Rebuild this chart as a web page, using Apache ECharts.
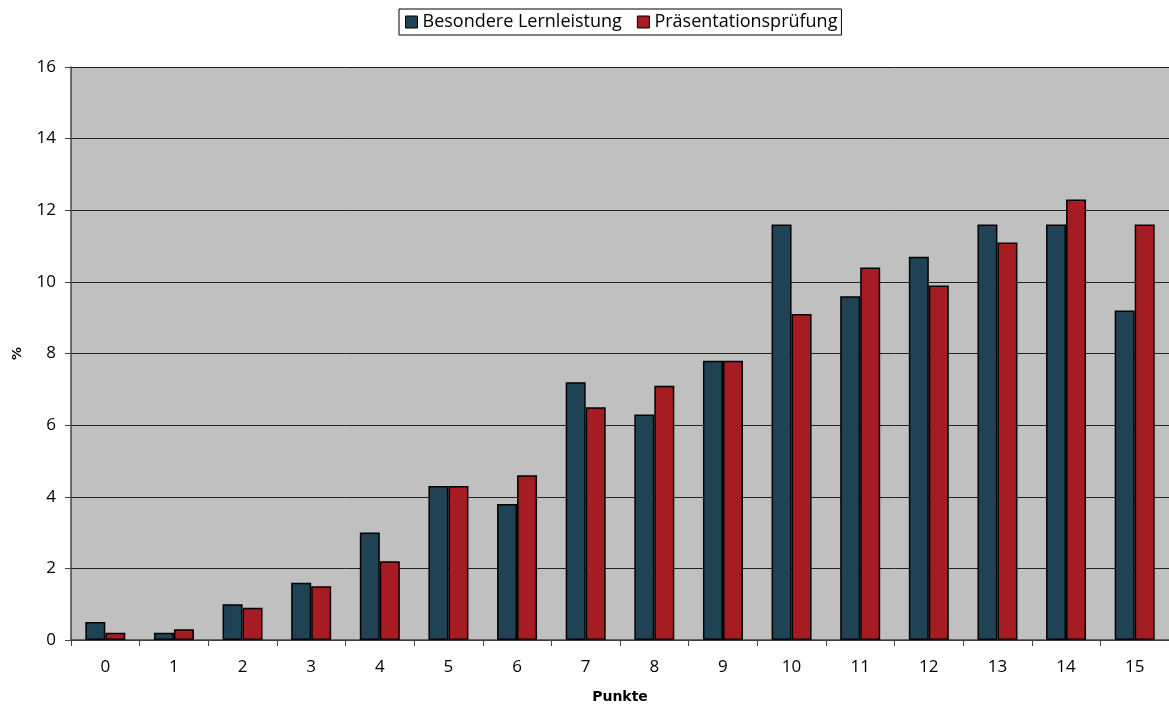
<!DOCTYPE html>
<html><head><meta charset="utf-8">
<script src="https://cdn.jsdelivr.net/npm/echarts@6/dist/echarts.min.js"></script>
<style>html,body{margin:0;padding:0;background:#fff}#c{width:1169px;height:709px}</style>
</head><body><div id="c"></div>
<script>
const categories = ['0','1','2','3','4','5','6','7','8','9','10','11','12','13','14','15'];
const besondereLernleistung = [0.5,0.2,1.0,1.6,3.0,4.3,3.8,7.2,6.3,7.8,11.6,9.6,10.7,11.6,11.6,9.2];
const praesentationspruefung = [0.2,0.3,0.9,1.5,2.2,4.3,4.6,6.5,7.1,7.8,9.1,10.4,9.9,11.1,12.3,11.6];
const seriesNames = ['Besondere Lernleistung','Präsentationsprüfung'];
const FONT = '"Open Sans", "Noto Sans", sans-serif';
const chart = echarts.init(document.getElementById('c'), null, {renderer:'canvas'});
chart.setOption({
  animation:false,
  textStyle:{fontFamily:FONT},
  legend:{
    top:9, left:399,
    itemWidth:12, itemHeight:12, itemGap:15,
    borderColor:'#000', borderWidth:1, padding:[4,4,4,6],
    textStyle:{fontSize:18,color:'#000',fontFamily:FONT},
    data:seriesNames.map(n=>({name:n,icon:'rect',itemStyle:{borderColor:'#000',borderWidth:1}}))
  },
  grid:{left:71,right:-4,top:67,bottom:65,show:true,backgroundColor:'#C0C0C0',borderWidth:0,containLabel:false},
  xAxis:{
    type:'category', data:categories,
    name:'Punkte', nameLocation:'middle', nameGap:50,
    nameTextStyle:{fontWeight:'bold',fontSize:14,color:'#000',fontFamily:'"DejaVu Sans", sans-serif'},
    axisLine:{lineStyle:{color:'#444',width:1.5}},
    axisTick:{show:true,length:6,lineStyle:{color:'#444'}},
    axisLabel:{fontSize:17,color:'#000',margin:19,fontFamily:FONT},
    splitLine:{show:false}
  },
  yAxis:{
    type:'value', min:0, max:16, interval:2,
    name:'%', nameLocation:'middle', nameGap:47,
    nameTextStyle:{fontWeight:'bold',fontSize:13,color:'#000',fontFamily:'"DejaVu Sans", sans-serif'},
    axisLine:{show:true,lineStyle:{color:'#444',width:1.5}},
    axisTick:{show:true,length:6,lineStyle:{color:'#444'}},
    axisLabel:{fontSize:17,color:'#000',margin:15,fontFamily:FONT},
    splitLine:{show:true,lineStyle:{color:'#222',width:1}}
  },
  series:[
    {name:seriesNames[0],type:'bar',data:besondereLernleistung,barWidth:20,barGap:'0%',
     itemStyle:{color:'#1F4254',borderColor:'#000',borderWidth:1.5}},
    {name:seriesNames[1],type:'bar',data:praesentationspruefung,barWidth:20,barGap:'0%',
     itemStyle:{color:'#A51C22',borderColor:'#000',borderWidth:1.5}}
  ]
});
</script></body></html>
